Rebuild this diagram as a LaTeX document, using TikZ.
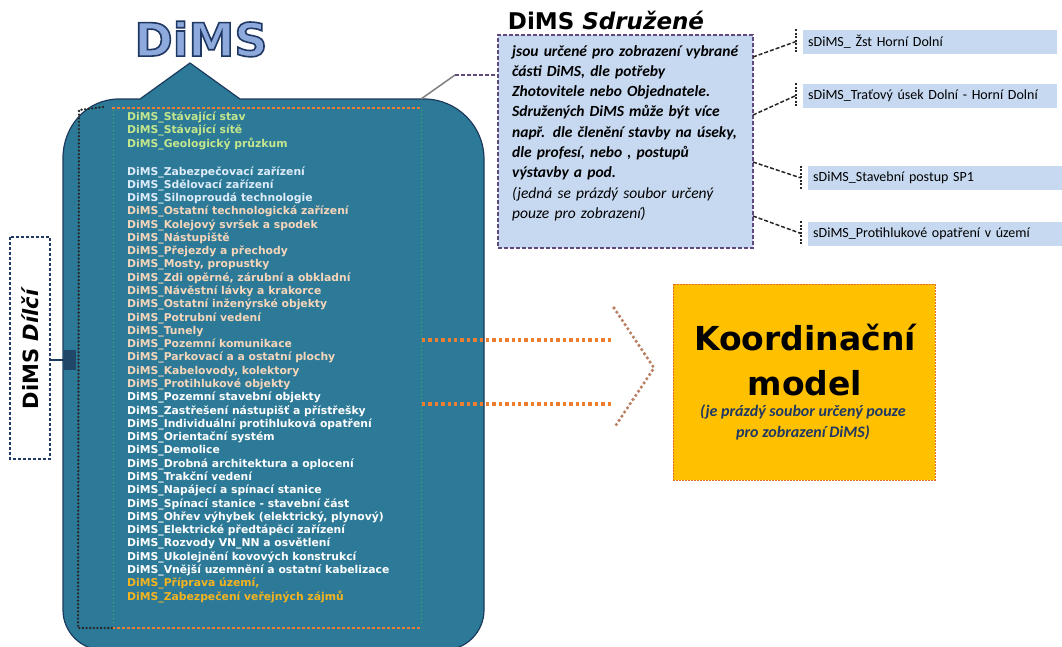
\documentclass[tikz,border=0pt]{standalone}
\usepackage{fontspec}
\setmainfont{DejaVu Sans}
\newfontfamily\calibri{Carlito}
\usetikzlibrary{positioning}

\definecolor{BodyFill}{RGB}{45,122,152}
\definecolor{BodyLine}{RGB}{28,58,92}
\definecolor{TitleFill}{RGB}{142,169,219}
\definecolor{TitleLine}{RGB}{31,56,100}
\definecolor{SdruzFill}{RGB}{198,217,240}
\definecolor{SdruzLine}{RGB}{96,74,123}
\definecolor{KoordFill}{RGB}{255,192,0}
\definecolor{KoordLine}{RGB}{228,108,40}
\definecolor{ArrowOrange}{RGB}{237,125,49}
\definecolor{ArrowBrown}{RGB}{186,128,100}
\definecolor{ListGreen}{RGB}{196,230,140}
\definecolor{ListBlue}{RGB}{222,236,250}
\definecolor{ListPeach}{RGB}{246,214,186}
\definecolor{ListGold}{RGB}{245,180,30}

\newcommand{\outlined}[1]{\special{pdf:literal direct 2 Tr 1.6 w 0.12 0.22 0.39 RG}#1\special{pdf:literal direct 0 Tr}}

\tikzstyle{Body}=[fill=BodyFill,draw=BodyLine,line width=1.2pt]
\tikzstyle{FrameOrange}=[ArrowOrange,dash pattern=on 3pt off 2pt,line width=1.4pt]
\tikzstyle{FrameSide}=[gray!50!green,dash pattern=on 1pt off 3pt,line width=0.8pt]
\tikzstyle{FrameDark}=[black!85,line cap=round,dash pattern=on 0pt off 3.6pt,line width=2.6pt]
\tikzstyle{TitleText}=[font=\fontsize{46}{46}\selectfont\bfseries,inner sep=0pt,text=TitleFill]
\tikzstyle{ListItem}=[anchor=west,inner sep=0pt,font=\fontsize{10.8}{12}\selectfont\bfseries]
\tikzstyle{SdruzBox}=[fill=SdruzFill,draw=SdruzLine,dash pattern=on 4pt off 2pt,line width=1.5pt,
  minimum width=255pt,minimum height=213pt]
\tikzstyle{SdruzText}=[anchor=north west,inner sep=0pt,text width=245pt,align=left,
  font=\calibri\fontsize{15.5}{20.3}\selectfont\itshape]
\tikzstyle{SdimsBox}=[anchor=west,fill=SdruzFill,minimum height=24pt,text width=244pt,
  inner xsep=5pt,align=left,font=\calibri\fontsize{14}{15}\selectfont]
\tikzstyle{TickLine}=[black!85,dash pattern=on 2pt off 1.5pt,line width=1.3pt]
\tikzstyle{LinkDash}=[black!85,dash pattern=on 4pt off 2pt,line width=1.5pt]
\tikzstyle{KoordBox}=[fill=KoordFill,draw=KoordLine,dash pattern=on 2pt off 1pt,line width=0.6pt,
  minimum width=262pt,minimum height=196pt]
\tikzstyle{KoordTitle}=[inner sep=0pt,font=\fontsize{33}{33}\selectfont\bfseries]
\tikzstyle{KoordNote}=[inner sep=0pt,align=center,text=TitleLine,
  font=\calibri\fontsize{16}{21}\selectfont\bfseries\itshape]
\tikzstyle{DilciBox}=[draw=TitleLine,fill=white,dash pattern=on 3pt off 2pt,line width=1.5pt,
  rotate=90,minimum width=222pt,minimum height=40pt,font=\fontsize{21}{21}\selectfont\bfseries]
\tikzstyle{ArrowBody}=[ArrowOrange,line width=3.4pt,dash pattern=on 3.4pt off 3pt]
\tikzstyle{ArrowHead}=[ArrowBrown,line width=3.6pt,line cap=round,dash pattern=on 0pt off 5pt]

\begin{document}
\begin{tikzpicture}[x=1pt, y=-1pt]
		\useasboundingbox (0,0) rectangle (1062,646);
		
		% DiMS body with its peak
		\draw[Body] (63,158) .. controls (63,126) and (87,99) .. (119,99) -- (140,99) -- (190,63)
		  -- (240,99) -- (424,99) .. controls (457,99) and (484,126) .. (484,159) -- (484,610)
		  .. controls (484,632) and (466,650) .. (444,650) -- (103,650)
		  .. controls (81,650) and (63,632) .. (63,610) -- cycle;
		% Inner frame
		\draw[FrameOrange] (112,108) -- (422,108);
		\draw[FrameOrange] (112,628) -- (422,628);
		\draw[FrameSide] (113,110) -- (113,626);
		\draw[FrameSide] (421,110) -- (421,626);
		\draw[FrameDark] (103,107) -- (79,110) -- (78,628) -- (112,628);
		
		% Title
		\draw(201,39) node[TitleText] (Title) {\outlined{DiMS}};
		
		% DiMS list
		\foreach \t [count=\i] in {DiMS\_Stávající stav, DiMS\_Stávající sítě,
		  DiMS\_Geologický průzkum}
		  \draw(127,{103.7+13.3*\i}) node[ListItem,text=ListGreen] (Base\i) {\t};
		\foreach \t [count=\i] in {DiMS\_Zabezpečovací zařízení, DiMS\_Sdělovací zařízení,
		  DiMS\_Silnoproudá technologie}
		  \draw(127,{158.7+13.28*\i}) node[ListItem,text=ListBlue] (Item\i) {\t};
		\foreach \t [count=\i from 4] in {DiMS\_Ostatní technologická zařízení,
		  DiMS\_Kolejový svršek a spodek, DiMS\_Nástupiště, DiMS\_Přejezdy a přechody,
		  {DiMS\_Mosty, propustky}, {DiMS\_Zdi opěrné, zárubní a obkladní},
		  DiMS\_Návěstní lávky a krakorce, DiMS\_Ostatní inženýrské objekty,
		  DiMS\_Potrubní vedení, DiMS\_Tunely, DiMS\_Pozemní komunikace,
		  DiMS\_Parkovací a a ostatní plochy, {DiMS\_Kabelovody, kolektory},
		  DiMS\_Protihlukové objekty}
		  \draw(127,{158.7+13.28*\i}) node[ListItem,text=ListPeach] (Item\i) {\t};
		\foreach \t [count=\i from 18] in {DiMS\_Pozemní stavební objekty,
		  DiMS\_Zastřešení nástupišť a přístřešky, DiMS\_Individuální protihluková opatření,
		  DiMS\_Orientační systém, DiMS\_Demolice, DiMS\_Drobná architektura a oplocení,
		  DiMS\_Trakční vedení, DiMS\_Napájecí a spínací stanice,
		  DiMS\_Spínací stanice - stavební část, {DiMS\_Ohřev výhybek (elektrický, plynový)},
		  DiMS\_Elektrické předtápěcí zařízení, DiMS\_Rozvody VN\_NN a osvětlení,
		  DiMS\_Ukolejnění kovových konstrukcí, DiMS\_Vnější uzemnění a ostatní kabelizace}
		  \draw(127,{158.7+13.28*\i}) node[ListItem,text=white] (Item\i) {\t};
		\foreach \t [count=\i from 32] in {{DiMS\_Příprava území,},
		  DiMS\_Zabezpečení veřejných zájmů}
		  \draw(127,{158.7+13.28*\i}) node[ListItem,text=ListGold] (Item\i) {\t};
		
		% DiMS Dilci
		\draw(30,348) node[DilciBox] (Dilci) {DiMS \textit{Dílčí}};
		\draw(70,360) node[fill=BodyLine!80!BodyFill,minimum width=12pt,minimum height=20pt,
		  inner sep=0pt] (Blob) {};
		\draw[BodyLine,line width=2pt] (Blob) -- (Blob -| Dilci.south);
		
		% DiMS Sdruzene
		\draw(606,20) node[font=\fontsize{23}{23}\selectfont\bfseries,inner sep=0pt]
		  (SdruzTitle) {DiMS \textit{Sdružené}};
		\draw(625.5,141.5) node[SdruzBox] (Sdruz) {};
		\draw(512,45) node[SdruzText] (SdruzNote) {\bfseries jsou určené pro zobrazení vybrané\\
		  části DiMS, dle potřeby\\ Zhotovitele nebo Objednatele.\\ Sdružených DiMS může být více\\
		  např. dle  členění stavby na úseky,\\ dle profesí, nebo , postupů\\
		  výstavby  a pod.\\ \mdseries (jedná se prázdý soubor určený\\ pouze pro zobrazení)};
		\coordinate (BodyCorner) at (421,99);
		\coordinate (BodyBend) at (455,75);
		\draw[gray,line width=1.5pt] (BodyCorner) -- (BodyBend);
		\draw[SdruzLine,dash pattern=on 4pt off 2pt,line width=1.5pt] (BodyBend) -- (BodyBend -| Sdruz.west);
		
		% Sdruzene DiMS boxes
		\draw(803,41.5) node[SdimsBox] (Sdims1) {sDiMS\_ Žst Horní Dolní};
		\draw(803,95.5) node[SdimsBox] (Sdims2) {sDiMS\_Traťový úsek Dolní - Horní Dolní};
		\draw(808,178) node[SdimsBox] (Sdims3) {sDiMS\_Stavební postup SP1};
		\draw(808,233.5) node[SdimsBox] (Sdims4) {sDiMS\_Protihlukové opatření v území};
		% Sdruzene DiMS links
		\coordinate (SdruzOut1) at (753,57);
		\coordinate (SdruzOut2) at (753,115);
		\coordinate (SdruzOut3) at (753,162);
		\coordinate (SdruzOut4) at (753,216);
		\foreach \n in {1,2,3,4} {
		  \draw[TickLine] ([xshift=-7pt]Sdims\n.north west) -- ([xshift=-7pt]Sdims\n.south west);
		  \draw[LinkDash] (SdruzOut\n) -- ([xshift=-7pt]Sdims\n.west);
		}
		
		% Arrow to Koordinacni model
		\draw[ArrowBody] (422,340) -- (612,340);
		\draw[ArrowBody] (422,404) -- (612,404);
		\draw[ArrowHead] (614,308) -- (654,368) -- (614,428);
		
		% Koordinacni model
		\draw(804,382) node[KoordBox] (Koord) {};
		\draw(805,338) node[KoordTitle] (KoordTitle1) {Koordinační};
		\draw(805,383) node[KoordTitle] (KoordTitle2) {model};
		\draw(803,422) node[KoordNote] (KoordNote) {(je prázdý soubor určený pouze\\pro zobrazení  DiMS)};
		
	\end{tikzpicture}
\end{document}
